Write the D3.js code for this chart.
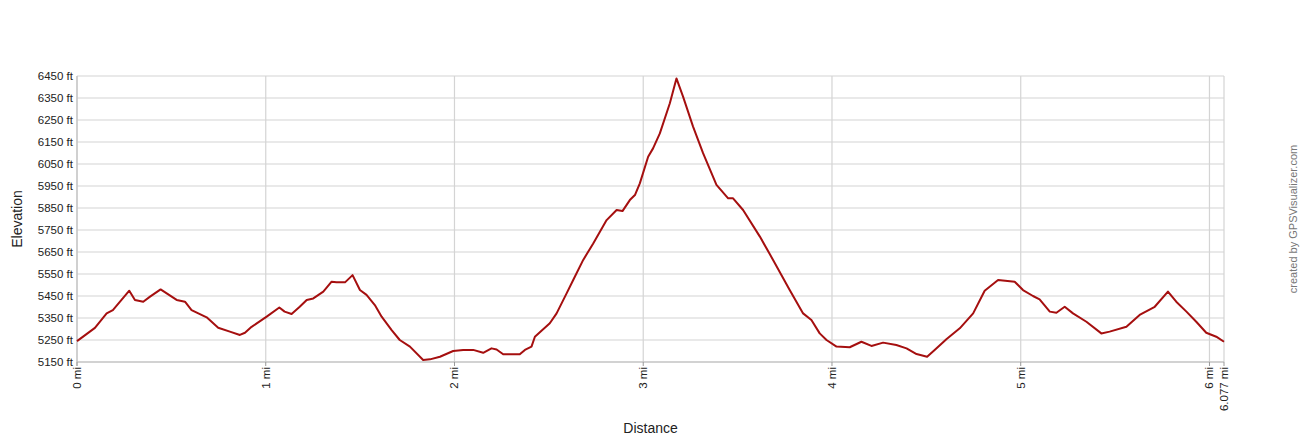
<!DOCTYPE html>
<html><head><meta charset="utf-8">
<script src="https://cdn.jsdelivr.net/npm/d3@7"></script>
<style>body{margin:0;background:#fff}svg{display:block;font-family:"Liberation Sans",Arial,sans-serif}</style>
</head><body><svg id="c" width="1300" height="440"></svg>
<script>
const distances = [0,0.095,0.157,0.19,0.277,0.307,0.351,0.387,0.443,0.528,0.572,0.607,0.687,0.748,0.81,0.863,0.89,0.925,1.005,1.072,1.10,1.137,1.18,1.217,1.252,1.305,1.349,1.375,1.42,1.46,1.499,1.534,1.578,1.614,1.667,1.71,1.764,1.834,1.87,1.923,1.993,2.046,2.099,2.152,2.196,2.223,2.258,2.346,2.373,2.408,2.426,2.505,2.541,2.594,2.629,2.682,2.735,2.806,2.859,2.89,2.929,2.956,2.982,3.026,3.052,3.088,3.141,3.176,3.211,3.264,3.317,3.388,3.45,3.476,3.529,3.618,3.688,3.776,3.847,3.891,3.935,3.971,4.024,4.094,4.156,4.209,4.271,4.341,4.395,4.448,4.504,4.544,4.606,4.677,4.748,4.809,4.88,4.968,5.012,5.065,5.10,5.154,5.189,5.233,5.277,5.348,5.427,5.471,5.56,5.63,5.71,5.78,5.824,5.878,5.93,5.983,6.036,6.077];
const elevations = [5245,5305,5371,5386,5474,5432,5424,5447,5480,5432,5424,5386,5353,5306,5288,5273,5283,5310,5356,5398,5379,5368,5401,5432,5439,5470,5515,5512,5512,5545,5477,5455,5409,5356,5295,5250,5220,5159,5162,5174,5200,5205,5205,5192,5212,5207,5185,5185,5205,5220,5265,5326,5371,5462,5523,5614,5689,5795,5841,5836,5886,5909,5962,6083,6121,6189,6326,6439,6356,6220,6099,5955,5894,5894,5841,5720,5614,5477,5371,5341,5280,5250,5220,5217,5242,5223,5238,5227,5212,5186,5174,5205,5253,5303,5371,5474,5523,5515,5477,5450,5435,5379,5374,5401,5371,5333,5280,5288,5310,5364,5401,5470,5424,5379,5333,5283,5265,5242];
const yTicks = [5150,5250,5350,5450,5550,5650,5750,5850,5950,6050,6150,6250,6350,6450];
const xTicks = [0,1,2,3,4,5,6,6.077];
const xTickLabels = ["0 mi","1 mi","2 mi","3 mi","4 mi","5 mi","6 mi","6.077 mi"];

const svg = d3.select("#c");
const L=77,R=1224,T=76,B=362;
const x = d3.scaleLinear().domain([0,6.077]).range([L,R]);
const y = d3.scaleLinear().domain([5150,6450]).range([B,T]);

// horizontal grid
svg.append("g").selectAll("line").data(yTicks).join("line")
  .attr("x1",L).attr("x2",R).attr("y1",d=>y(d)).attr("y2",d=>y(d))
  .attr("stroke","#d4d4d4").attr("stroke-width",1.2);
// vertical grid
svg.append("g").selectAll("line").data(xTicks).join("line")
  .attr("x1",d=>x(d)).attr("x2",d=>x(d)).attr("y1",T).attr("y2",B)
  .attr("stroke","#d4d4d4").attr("stroke-width",1.2);
// axes lines
svg.append("line").attr("x1",L).attr("x2",L).attr("y1",T).attr("y2",B+4).attr("stroke","#bbb");
svg.append("line").attr("x1",L).attr("x2",R).attr("y1",B).attr("y2",B).attr("stroke","#bbb");
// x tick marks
svg.append("g").selectAll("line").data(xTicks).join("line")
  .attr("x1",d=>x(d)).attr("x2",d=>x(d)).attr("y1",B).attr("y2",B+4).attr("stroke","#999");

// y labels
svg.append("g").selectAll("text").data(yTicks).join("text")
  .attr("x",L-4).attr("y",d=>y(d)).attr("dy","0.35em").attr("text-anchor","end")
  .attr("font-size",11.5).attr("fill","#222").text(d=>d+" ft");
// x labels (rotated)
svg.append("g").selectAll("text").data(xTicks).join("text")
  .attr("transform",(d,i)=>`translate(${x(d)+4},${B+5}) rotate(-90)`)
  .attr("text-anchor","end").attr("font-size",11.5).attr("fill","#222")
  .text((d,i)=>xTickLabels[i]);

// titles
svg.append("text").attr("transform",`translate(22,${(T+B)/2}) rotate(-90)`)
  .attr("text-anchor","middle").attr("font-size",14).attr("fill","#222").text("Elevation");
svg.append("text").attr("x",(L+R)/2).attr("y",433)
  .attr("text-anchor","middle").attr("font-size",14).attr("fill","#222").text("Distance");
svg.append("text").attr("transform",`translate(1297,${(T+B)/2}) rotate(-90)`)
  .attr("text-anchor","middle").attr("font-size",11).attr("fill","#777").text("created by GPSVisualizer.com");

// line
const line = d3.line().x((d,i)=>x(distances[i])).y(d=>y(d));
svg.append("path").datum(elevations).attr("d",line).attr("fill","none")
  .attr("stroke","#a50f0f").attr("stroke-width",2).attr("stroke-linejoin","round");
</script></body></html>
